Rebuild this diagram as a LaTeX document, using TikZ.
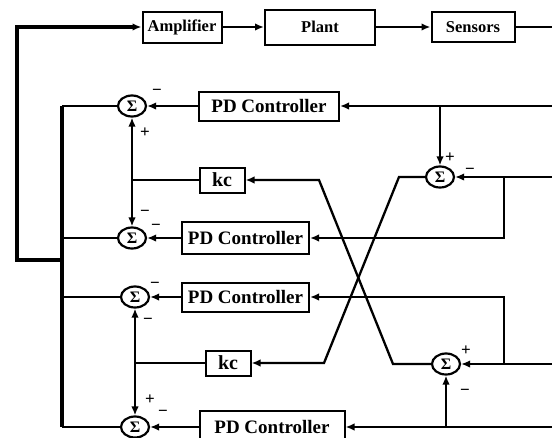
\documentclass[tikz,border=0pt]{standalone}
\usepackage{fontspec}
\setmainfont{Liberation Serif}
\usetikzlibrary{arrows.meta,shapes.geometric}
\tikzset{
  block/.style={draw,line width=2pt,inner sep=0pt,font=\bfseries\fontsize{19}{20}\selectfont},
  topblock/.style={block,font=\bfseries\fontsize{16.5}{18}\selectfont},
  gainblock/.style={block,minimum width=45pt,minimum height=25pt,font=\bfseries\fontsize{20}{21}\selectfont},
  sumnode/.style={ellipse,draw,line width=2.2pt,minimum width=28pt,minimum height=21pt,
    inner sep=0pt,font=\bfseries\fontsize{16}{17}\selectfont},
  sig/.style={-{Latex[length=9pt,width=7.5pt]},line width=2.3pt},
  twoway/.style={{Latex[length=9pt,width=7.5pt]}-{Latex[length=9pt,width=7.5pt]},line width=2.3pt},
  wire/.style={line width=2.3pt},
  bus/.style={line width=4.5pt},
  loopline/.style={-{Latex[length=9pt,width=7.5pt]},line width=4pt},
  sign/.style={inner sep=0pt,font=\bfseries\fontsize{17}{18}\selectfont}
}

\begin{document}
\begin{tikzpicture}[x=1pt,y=-1pt]
  \clip (0,0) rectangle (552,437);
  \node[topblock, minimum width=79pt, minimum height=31pt] (amplifier) at (182,27) {Amplifier};
  \node[topblock, minimum width=110pt, minimum height=35pt] (plant) at (320,27) {Plant};
  \node[topblock, minimum width=83pt, minimum height=30pt] (sensors) at (473,27) {Sensors};

  \node[block, minimum width=140pt, minimum height=29pt] (pd1) at (269,106) {PD Controller};
  \node[block, minimum width=127pt, minimum height=32pt] (pd2) at (245.5,238) {PD Controller};
  \node[block, minimum width=127pt, minimum height=29pt] (pd3) at (245.5,297) {PD Controller};
  \node[block, minimum width=145pt, minimum height=32pt] (pd4) at (272,427) {PD Controller};
  \node[gainblock] (kc1) at (222,180) {kc};
  \node[gainblock] (kc2) at (228,363) {kc};

  \node[sumnode] (sum1) at (132,106) {Σ};
  \node[sumnode] (sum2) at (132,238) {Σ};
  \node[sumnode] (sum3) at (135,297) {Σ};
  \node[sumnode] (sum4) at (135,427) {Σ};
  \node[sumnode] (sumA) at (440,177) {Σ};
  \node[sumnode] (sumB) at (446,364) {Σ};

  \coordinate (in1) at (552,106);
  \coordinate (in2) at (552,177);
  \coordinate (in3) at (552,364);
  \coordinate (in4) at (552,427);
  \coordinate (out) at (552,27);
  \coordinate (tapA) at (504,177);
  \coordinate (tapB) at (504,364);
  \coordinate (bustop) at (62,106);
  \coordinate (busbot) at (62,427);
  \coordinate (busjoin) at (62,260);

  \draw[loopline] (busjoin) -- (17,260) -- (17,27) -- (amplifier.west);
  \draw[sig] (amplifier) -- (plant);
  \draw[sig] (plant) -- (sensors);
  \draw[wire] (sensors) -- (out);

  \draw[sig] (in1) -- (pd1);
  \draw[sig] (sumA.north |- in1) -- (sumA.north);
  \draw[sig] (in2) -- (sumA);
  \draw[sig] (tapA) |- (pd2.east);
  \draw[sig] (in3) -- (sumB);
  \draw[sig] (tapB) |- (pd3.east);
  \draw[sig] (in4) -- (pd4);
  \draw[sig] (sumB.south |- in4) -- (sumB.south);

  \draw[sig] (sumA.west) -- (399,177) -- (324,363) -- (kc2.east);
  \draw[sig] (sumB.west) -- (393,364) -- (319,180) -- (kc1.east);

  \draw[sig] (pd1) -- (sum1);
  \draw[sig] (pd2) -- (sum2);
  \draw[sig] (pd3) -- (sum3);
  \draw[sig] (pd4) -- (sum4);
  \draw[twoway] (sum1.south) -- (sum2.north);
  \draw[twoway] (sum3.south) -- (sum4.north);
  \draw[wire] (kc1.west) -- (kc1.west -| sum1);
  \draw[wire] (kc2.west) -- (kc2.west -| sum3);

  \draw[wire] (sum1.west) -- (sum1.west -| bustop);
  \draw[wire] (sum2.west) -- (sum2.west -| bustop);
  \draw[wire] (sum3.west) -- (sum3.west -| bustop);
  \draw[wire] (sum4.west) -- (sum4.west -| bustop);
  \draw[bus] (bustop) -- (busbot);

  \node[sign] (m1a) at (157,92) {−};
  \node[sign] (p1b) at (145,133) {+};
  \node[sign] (m2b) at (145,213) {−};
  \node[sign] (m2a) at (156,227) {−};
  \node[sign] (m3a) at (155,285) {−};
  \node[sign] (m3b) at (148,321) {−};
  \node[sign] (p4b) at (150,400) {+};
  \node[sign] (m4a) at (163,413) {−};
  \node[sign] (pA) at (450,158) {+};
  \node[sign] (mA) at (470,171) {−};
  \node[sign] (pB) at (466,351) {+};
  \node[sign] (mB) at (465,392) {−};
\end{tikzpicture}
\end{document}
